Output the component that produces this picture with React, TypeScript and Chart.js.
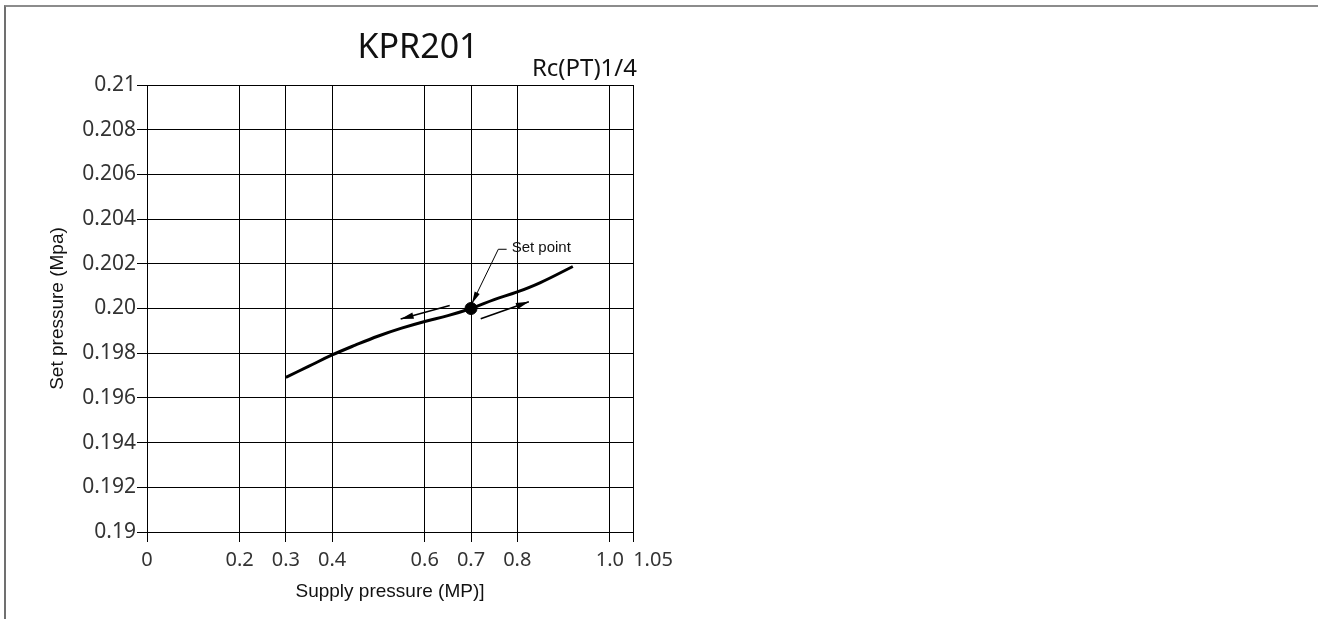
import React, { useEffect, useRef } from 'react';
import { Chart, registerables } from 'chart.js';

Chart.register(...registerables);

// ---- data ----
const supplyPressure = [0.3, 0.35, 0.4, 0.45, 0.5, 0.55, 0.6, 0.65, 0.7, 0.75, 0.8, 0.85, 0.92];
const setPressure = [0.19692, 0.19742, 0.19792, 0.19836, 0.19877, 0.19912, 0.19942, 0.19968, 0.2, 0.2004, 0.20074, 0.20116, 0.20188];

const setPointX = [0.7];
const setPointY = [0.2];

const xTickValues = [0, 0.2, 0.3, 0.4, 0.6, 0.7, 0.8, 1.0, 1.05];
const xTickLabels = ['0', '0.2', '0.3', '0.4', '0.6', '0.7', '0.8', '1.0', '\u2002\u2002\u2002\u20021.05'];
const yTickValues = [0.19, 0.192, 0.194, 0.196, 0.198, 0.2, 0.202, 0.204, 0.206, 0.208, 0.21];
const yTickLabels = ['0.19', '0.192', '0.194', '0.196', '0.198', '0.20', '0.202', '0.204', '0.206', '0.208', '0.21'];

// arrows in data units: [x, y] start -> end (head at end)
const leftArrow = [[0.654, 0.20013], [0.548, 0.19953]];
const rightArrow = [[0.721, 0.19954], [0.825, 0.2003]];
const leaderLine = [[0.777, 0.20265], [0.759, 0.20265], [0.702, 0.20022]];
const setPointLabel = 'Set point';

const titleText = 'KPR201';
const subtitleText = 'Rc(PT)1/4';
const xAxisTitle = 'Supply pressure (MP)]';
const yAxisTitle = 'Set pressure (Mpa)';

function drawArrowHead(ctx: CanvasRenderingContext2D, x0: number, y0: number, x1: number, y1: number, len: number, half: number) {
  const ang = Math.atan2(y1 - y0, x1 - x0);
  ctx.beginPath();
  ctx.moveTo(x1, y1);
  ctx.lineTo(x1 - len * Math.cos(ang) + half * Math.sin(ang), y1 - len * Math.sin(ang) - half * Math.cos(ang));
  ctx.lineTo(x1 - len * Math.cos(ang) - half * Math.sin(ang), y1 - len * Math.sin(ang) + half * Math.cos(ang));
  ctx.closePath();
  ctx.fill();
}

const annotationPlugin = {
  id: 'annotations',
  afterDatasetsDraw(chart: any) {
    const ctx = chart.ctx as CanvasRenderingContext2D;
    const xs = chart.scales.x;
    const ys = chart.scales.y;
    const px = (p: number[]) => [xs.getPixelForValue(p[0]), ys.getPixelForValue(p[1])];
    ctx.save();
    ctx.strokeStyle = '#000';
    ctx.fillStyle = '#000';
    // motion arrows
    for (const arr of [leftArrow, rightArrow]) {
      const [a, b] = [px(arr[0]), px(arr[1])];
      ctx.lineWidth = 1.6;
      ctx.beginPath();
      ctx.moveTo(a[0], a[1]);
      ctx.lineTo(b[0], b[1]);
      ctx.stroke();
      drawArrowHead(ctx, a[0], a[1], b[0], b[1], 13, 3.2);
    }
    // leader
    const pts = leaderLine.map(px);
    ctx.lineWidth = 1;
    ctx.beginPath();
    ctx.moveTo(pts[0][0], pts[0][1]);
    for (let i = 1; i < pts.length; i++) ctx.lineTo(pts[i][0], pts[i][1]);
    ctx.stroke();
    const n = pts.length;
    drawArrowHead(ctx, pts[n - 2][0], pts[n - 2][1], pts[n - 1][0], pts[n - 1][1], 12, 2.8);
    ctx.font = '15px "Liberation Sans", Arial, sans-serif';
    ctx.fillStyle = '#111';
    ctx.textAlign = 'left';
    ctx.textBaseline = 'middle';
    ctx.fillText(setPointLabel, pts[0][0] + 5, pts[0][1] - 1);
    // titles
    const area = chart.chartArea;
    ctx.fillStyle = '#111';
    ctx.textBaseline = 'alphabetic';
    ctx.textAlign = 'center';
    ctx.font = '34px "Noto Sans", sans-serif';
    ctx.fillText(titleText, area.left + 271, area.top - 27);
    ctx.textAlign = 'right';
    ctx.font = '24px "Noto Sans", sans-serif';
    ctx.fillText(subtitleText, area.right + 4, area.top - 9);
    ctx.restore();
  },
};

export default function App() {
  const ref = useRef<HTMLCanvasElement>(null);
  useEffect(() => {
    if (!ref.current) return;
    const chart = new Chart(ref.current, {
      type: 'line',
      data: {
        datasets: [
          {
            data: supplyPressure.map((x, i) => ({ x, y: setPressure[i] })),
            borderColor: '#000',
            borderWidth: 3,
            pointRadius: 0,
            tension: 0.4,
            fill: false,
          },
          {
            data: setPointX.map((x, i) => ({ x, y: setPointY[i] })),
            showLine: false,
            pointRadius: 6,
            pointBackgroundColor: '#000',
            pointBorderColor: '#000',
            borderColor: '#000',
          },
        ],
      },
      options: {
        animation: false,
        responsive: false,
        layout: { padding: { left: 0, top: 85, right: 67, bottom: 0 } },
        plugins: { legend: { display: false }, tooltip: { enabled: false }, title: { display: false } },
        scales: {
          x: {
            type: 'linear',
            min: 0,
            max: 1.05,
            afterBuildTicks: (axis: any) => {
              axis.ticks = xTickValues.map((v) => ({ value: v }));
            },
            afterFit: (scale: any) => {
              scale.height = 87;
            },
            ticks: {
              autoSkip: false,
              maxRotation: 0,
              padding: 6,
              color: '#333',
              font: { family: '"Noto Sans", sans-serif', size: 20 },
              callback: (_v: any, i: number) => xTickLabels[i],
            },
            grid: { color: '#000', lineWidth: 1, tickLength: 10, drawTicks: true },
            border: { color: '#000', width: 1 },
            title: {
              display: true,
              text: xAxisTitle,
              color: '#111',
              font: { family: '"Liberation Sans", Arial, sans-serif', size: 19 },
              padding: { top: 0, bottom: 16 },
            },
          },
          y: {
            type: 'linear',
            min: 0.19,
            max: 0.21,
            afterBuildTicks: (axis: any) => {
              axis.ticks = yTickValues.map((v) => ({ value: v }));
            },
            afterFit: (scale: any) => {
              scale.width = 147;
            },
            ticks: {
              autoSkip: false,
              padding: 1,
              color: '#333',
              font: { family: '"Noto Sans", sans-serif', size: 21 },
              callback: (_v: any, i: number) => yTickLabels[i],
            },
            grid: { color: '#000', lineWidth: 1, tickLength: 10, drawTicks: true },
            border: { color: '#000', width: 1 },
            title: {
              display: true,
              text: yAxisTitle,
              color: '#111',
              font: { family: '"Liberation Sans", Arial, sans-serif', size: 19 },
              padding: { top: 46, bottom: 0 },
            },
          },
        },
      },
      plugins: [annotationPlugin],
    } as any);
    return () => chart.destroy();
  }, []);

  return (
    <>
      <div
        style={{
          position: 'absolute',
          left: 4,
          top: 5,
          width: 1314,
          height: 614,
          borderTop: '2px solid #8c8c8c',
          borderLeft: '2px solid #707070',
          boxSizing: 'border-box',
        }}
      />
      <canvas
        ref={ref}
        width={700}
        height={619}
        style={{ position: 'absolute', left: 0, top: 0, width: 700, height: 619 }}
      />
    </>
  );
}
